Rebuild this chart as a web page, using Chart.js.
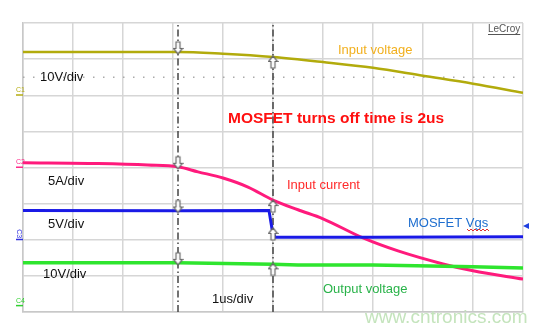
<!DOCTYPE html>
<html>
<head>
<meta charset="utf-8">
<script src="https://cdn.jsdelivr.net/npm/chart.js@4.4.1/dist/chart.umd.min.js"></script>
<style>
  html, body { margin: 0; padding: 0; background: #fff; }
</style>
</head>
<body>
<canvas id="scope" width="550" height="332"></canvas>
<script>
// scope screen in divisions: 10 across (1us/div), 8 up
const inputVoltageX = [0, 3.1, 4.0, 5.0, 6.0, 7.0, 8.0, 9.0, 10];
const inputVoltageY = [7.20, 7.20, 7.15, 7.06, 6.92, 6.76, 6.54, 6.32, 6.07];

const inputCurrentX = [0, 1.5, 2.5, 3.1, 3.5, 4.0, 4.5, 5.0, 5.5, 6.0, 6.8, 7.5, 8.4, 9.0, 10];
const inputCurrentY = [4.13, 4.11, 4.07, 4.02, 3.88, 3.71, 3.46, 3.10, 2.83, 2.58, 2.05, 1.69, 1.33, 1.14, 0.91];

const vgsX = [0, 3.1, 4.92, 4.98, 5.04, 7.0, 10];
const vgsY = [2.81, 2.80, 2.81, 2.30, 2.07, 2.07, 2.08];

const outputVoltageX = [0, 3.1, 5.0, 5.5, 7.0, 9.0, 10];
const outputVoltageY = [1.36, 1.36, 1.32, 1.30, 1.30, 1.25, 1.22];

const cursorX = [3.1, 5.0];
// trace levels where the cursors cross them
const cursor1Marks = [7.20, 4.02, 2.81, 1.36];
const cursor2Marks = [7.06, 3.07, 2.30, 1.32];

const dottedLevel = 6.5;

function pts(xs, ys) {
    return xs.map((x, i) => ({ x: x, y: ys[i] }));
}

function arrowImage(down) {
    const c = document.createElement('canvas');
    c.width = 11;
    c.height = 28;
    const g = c.getContext('2d');
    g.translate(5.5, 14);
    if (!down) g.scale(1, -1);
    g.translate(0, down ? 2 : 1);
    g.beginPath();
    g.moveTo(0, 0);
    g.lineTo(-4.5, -5.5);
    g.lineTo(-2, -5.5);
    g.lineTo(-2, -12);
    g.lineTo(2, -12);
    g.lineTo(2, -5.5);
    g.lineTo(4.5, -5.5);
    g.closePath();
    g.fillStyle = '#fff';
    g.fill();
    g.strokeStyle = '#666';
    g.lineWidth = 1.2;
    g.stroke();
    return c;
}

const labels = [
    { t: '10V/div', x: 40, y: 77, c: '#111' },
    { t: 'Input voltage', x: 338, y: 50, c: '#f2b01e' },
    { t: 'MOSFET turns off time is 2us', x: 228, y: 119, c: '#ff1010', f: 'bold 15.5px "Liberation Sans", Arial, sans-serif' },
    { t: '5A/div', x: 48, y: 181, c: '#111' },
    { t: 'Input current', x: 287, y: 185, c: '#ff2a2a' },
    { t: '5V/div', x: 48, y: 224, c: '#111' },
    { t: 'MOSFET Vgs', x: 408, y: 223, c: '#1e6ecf' },
    { t: '10V/div', x: 43, y: 274, c: '#111' },
    { t: 'Output voltage', x: 323, y: 289, c: '#2ab34a' },
    { t: '1us/div', x: 212, y: 299, c: '#111' }
];

const scopeText = {
    id: 'scopeText',
    afterDatasetsDraw(chart) {
        const ctx = chart.ctx;
        const y = chart.scales.y;
        ctx.save();
        ctx.textBaseline = 'middle';
        ctx.textAlign = 'left';

        labels.forEach(l => {
            ctx.font = l.f || '13px "Liberation Sans", Arial, sans-serif';
            ctx.fillStyle = l.c;
            ctx.fillText(l.t, l.x, l.y);
        });

        // spell-check squiggle under "Vgs"
        ctx.strokeStyle = '#e03030';
        ctx.lineWidth = 1;
        ctx.beginPath();
        for (let px = 467; px <= 489; px += 2) {
            const py = 230 + ((px - 467) / 2 % 2 ? 1 : -1);
            if (px === 467) ctx.moveTo(px, py); else ctx.lineTo(px, py);
        }
        ctx.stroke();

        // LeCroy logo
        ctx.font = '10px "Liberation Sans", Arial, sans-serif';
        ctx.fillStyle = '#555';
        ctx.fillText('LeCroy', 488, 29);
        ctx.fillRect(488, 34, ctx.measureText('LeCroy').width, 1);

        // channel ground markers
        const chans = [
            { n: 'C1', lvl: 6, c: '#b5ad10' },
            { n: 'C2', lvl: 4, c: '#ff2a8a' },
            { n: 'C3', lvl: 2, c: '#3030e0', rot: true },
            { n: 'C4', lvl: 0.17, c: '#30d030' }
        ];
        ctx.font = '7px "Liberation Sans", Arial, sans-serif';
        chans.forEach(ch => {
            const py = y.getPixelForValue(ch.lvl);
            ctx.fillStyle = ch.c;
            ctx.fillRect(16, py - 1, 7, 1.5);
            if (ch.rot) {
                ctx.save();
                ctx.translate(19, py - 6);
                ctx.rotate(Math.PI / 2);
                ctx.textAlign = 'center';
                ctx.fillText(ch.n, 0, 0);
                ctx.restore();
            } else {
                ctx.fillText(ch.n, 16, py - 5);
            }
        });

        // Vgs offset pointer on the right edge
        ctx.fillStyle = '#2040e0';
        ctx.beginPath();
        ctx.moveTo(523, 226);
        ctx.lineTo(529, 223);
        ctx.lineTo(529, 229);
        ctx.closePath();
        ctx.fill();

        // watermark
        ctx.font = '19px "Liberation Sans", Arial, sans-serif';
        ctx.fillStyle = '#c4e4bc';
        ctx.fillText('www.cntronics.com', 365, 318);
        ctx.restore();
    }
};

const downArrow = arrowImage(true);
const upArrow = arrowImage(false);

new Chart(document.getElementById('scope'), {
    type: 'line',
    data: {
        datasets: [
            {
                data: cursor1Marks.map(v => ({ x: cursorX[0], y: v })),
                showLine: false, pointStyle: downArrow, pointRadius: 6
            },
            {
                data: cursor2Marks.map(v => ({ x: cursorX[1], y: v })),
                showLine: false, pointStyle: upArrow, pointRadius: 6
            },
            {
                label: 'Output voltage', data: pts(outputVoltageX, outputVoltageY),
                borderColor: '#2ee52e', borderWidth: 3.5, pointRadius: 0, tension: 0
            },
            {
                label: 'MOSFET Vgs', data: pts(vgsX, vgsY),
                borderColor: '#1a1ae6', borderWidth: 3, pointRadius: 0, tension: 0
            },
            {
                label: 'Input current', data: pts(inputCurrentX, inputCurrentY),
                borderColor: '#ff1a7c', borderWidth: 3, pointRadius: 0,
                cubicInterpolationMode: 'monotone'
            },
            {
                label: 'Input voltage', data: pts(inputVoltageX, inputVoltageY),
                borderColor: '#b2ab0c', borderWidth: 2.5, pointRadius: 0,
                cubicInterpolationMode: 'monotone'
            },
            {
                data: [{ x: cursorX[0], y: 0 }, { x: cursorX[0], y: 8 }],
                borderColor: '#444', borderWidth: 1.5, borderDash: [7, 3, 1.5, 3], pointRadius: 0
            },
            {
                data: [{ x: cursorX[1], y: 0 }, { x: cursorX[1], y: 8 }],
                borderColor: '#444', borderWidth: 1.5, borderDash: [7, 3, 1.5, 3], pointRadius: 0
            },
            {
                data: [{ x: 0, y: dottedLevel }, { x: 10, y: dottedLevel }],
                borderColor: '#aaa', borderWidth: 1.5, borderDash: [1.5, 8.5], pointRadius: 0
            }
        ]
    },
    options: {
        responsive: false,
        animation: false,
        layout: { padding: { left: 23, right: 27, top: 23, bottom: 20 } },
        plugins: { legend: { display: false }, tooltip: { enabled: false } },
        scales: {
            x: {
                type: 'linear', min: 0, max: 10,
                ticks: { display: false, stepSize: 1 },
                grid: { color: '#d6d6d6', lineWidth: 1.5, drawTicks: false },
                border: { color: '#c8c8c8', width: 1.5 }
            },
            y: {
                min: 0, max: 8,
                ticks: { display: false, stepSize: 1 },
                grid: { color: '#d6d6d6', lineWidth: 1.5, drawTicks: false },
                border: { color: '#c8c8c8', width: 1.5 }
            }
        }
    },
    plugins: [scopeText]
});
</script>
</body>
</html>
